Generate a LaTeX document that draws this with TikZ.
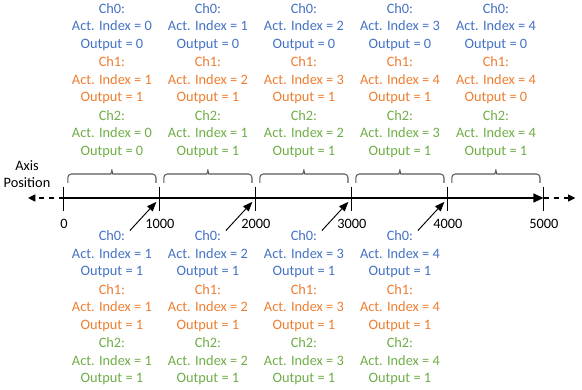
\documentclass[tikz,border=0pt]{standalone}
\usepackage{fontspec}
\setmainfont{Carlito}
\usepackage{xcolor}
\usepackage{tikz}
\usetikzlibrary{positioning,arrows.meta}
\definecolor{chblue}{HTML}{4472C4}
\definecolor{chorange}{HTML}{ED7D31}
\definecolor{chgreen}{HTML}{70AD47}
\definecolor{bracegray}{HTML}{595959}
\tikzstyle{info} = [align=center, inner sep=0pt, font=\fontsize{13.6}{16.6}\selectfont]
\tikzstyle{chzero} = [info, text=chblue]
\tikzstyle{chone} = [info, text=chorange]
\tikzstyle{chtwo} = [info, text=chgreen]
\tikzstyle{axisline} = [line width=2.8pt, -{Triangle[length=10pt,width=8pt]}]
\tikzstyle{dashext} = [line width=1.7pt, dash pattern=on 5pt off 4.5pt, -{Triangle[length=7pt,width=6.5pt]}]
\tikzstyle{tickmark} = [line width=0.9pt]
\tikzstyle{spanbrace} = [draw=bracegray, line width=1pt, rounded corners=0.12cm]
\tikzstyle{pointer} = [line width=0.9pt, shorten >=5pt, -{Triangle[length=9pt,width=7pt]}]

\begin{document}
\begin{tikzpicture}[node distance=1.78cm]
          \useasboundingbox (-2.13,-6.37) rectangle (17.27,6.6);
          % axis
          \coordinate (t0) at (0,0);
          \coordinate (t1) at (3.2,0);
          \coordinate (t2) at (6.4,0);
          \coordinate (t3) at (9.6,0);
          \coordinate (t4) at (12.8,0);
          \coordinate (t5) at (16,0);
          \coordinate (leftend) at (-1.2,0);
          \coordinate (rightend) at (17.05,0);
          \draw [axisline] (t0) -- (t5);
          \draw [dashext] (t0) -- (leftend);
          \draw [dashext] (t5) -- (rightend);
          \draw [tickmark] ([yshift=0.37cm]t0) -- ([yshift=-0.45cm]t0);
          \draw [tickmark] ([yshift=0.37cm]t1) -- ([yshift=-0.45cm]t1);
          \draw [tickmark] ([yshift=0.37cm]t2) -- ([yshift=-0.45cm]t2);
          \draw [tickmark] ([yshift=0.37cm]t3) -- ([yshift=-0.45cm]t3);
          \draw [tickmark] ([yshift=0.37cm]t4) -- ([yshift=-0.45cm]t4);
          \draw [tickmark] ([yshift=0.37cm]t5) -- ([yshift=-0.45cm]t5);
          \node (axislabel) [info] at (-1.23,0.8) {Axis\\Position};
          \node (pos0) [info] at (0,-0.87) {0};
          \node (pos1) [info] at (3.2,-0.87) {1000};
          \node (pos2) [info] at (6.4,-0.87) {2000};
          \node (pos3) [info] at (9.6,-0.87) {3000};
          \node (pos4) [info] at (12.8,-0.87) {4000};
          \node (pos5) [info] at (16,-0.87) {5000};
          % braces
          \draw [spanbrace] ([shift={(0.13,0.5)}]t0) |- ([shift={(1.45,0.8)}]t0) to[out=0,in=-90] ([shift={(1.6,1.03)}]t0) to[out=-90,in=180] ([shift={(1.75,0.8)}]t0) -| ([shift={(-0.13,0.5)}]t1);
          \draw [spanbrace] ([shift={(0.13,0.5)}]t1) |- ([shift={(1.45,0.8)}]t1) to[out=0,in=-90] ([shift={(1.6,1.03)}]t1) to[out=-90,in=180] ([shift={(1.75,0.8)}]t1) -| ([shift={(-0.13,0.5)}]t2);
          \draw [spanbrace] ([shift={(0.13,0.5)}]t2) |- ([shift={(1.45,0.8)}]t2) to[out=0,in=-90] ([shift={(1.6,1.03)}]t2) to[out=-90,in=180] ([shift={(1.75,0.8)}]t2) -| ([shift={(-0.13,0.5)}]t3);
          \draw [spanbrace] ([shift={(0.13,0.5)}]t3) |- ([shift={(1.45,0.8)}]t3) to[out=0,in=-90] ([shift={(1.6,1.03)}]t3) to[out=-90,in=180] ([shift={(1.75,0.8)}]t3) -| ([shift={(-0.13,0.5)}]t4);
          \draw [spanbrace] ([shift={(0.13,0.5)}]t4) |- ([shift={(1.45,0.8)}]t4) to[out=0,in=-90] ([shift={(1.6,1.03)}]t4) to[out=-90,in=180] ([shift={(1.75,0.8)}]t4) -| ([shift={(-0.13,0.5)}]t5);
          % upper columns
          \node (up1ch0) [chzero] at (1.6,5.7) {Ch0:\\Act. Index = 0\\Output = 0};
          \node (up1ch1) [chone, below of=up1ch0] {Ch1:\\Act. Index = 1\\Output = 1};
          \node (up1ch2) [chtwo, below of=up1ch1] {Ch2:\\Act. Index = 0\\Output = 0};
          \node (up2ch0) [chzero] at (4.8,5.7) {Ch0:\\Act. Index = 1\\Output = 0};
          \node (up2ch1) [chone, below of=up2ch0] {Ch1:\\Act. Index = 2\\Output = 1};
          \node (up2ch2) [chtwo, below of=up2ch1] {Ch2:\\Act. Index = 1\\Output = 1};
          \node (up3ch0) [chzero] at (8,5.7) {Ch0:\\Act. Index = 2\\Output = 0};
          \node (up3ch1) [chone, below of=up3ch0] {Ch1:\\Act. Index = 3\\Output = 1};
          \node (up3ch2) [chtwo, below of=up3ch1] {Ch2:\\Act. Index = 2\\Output = 1};
          \node (up4ch0) [chzero] at (11.2,5.7) {Ch0:\\Act. Index = 3\\Output = 0};
          \node (up4ch1) [chone, below of=up4ch0] {Ch1:\\Act. Index = 4\\Output = 1};
          \node (up4ch2) [chtwo, below of=up4ch1] {Ch2:\\Act. Index = 3\\Output = 1};
          \node (up5ch0) [chzero] at (14.4,5.7) {Ch0:\\Act. Index = 4\\Output = 0};
          \node (up5ch1) [chone, below of=up5ch0] {Ch1:\\Act. Index = 4\\Output = 0};
          \node (up5ch2) [chtwo, below of=up5ch1] {Ch2:\\Act. Index = 4\\Output = 1};
          % lower columns
          \node (low1ch0) [chzero] at (1.6,-1.88) {Ch0:\\Act. Index = 1\\Output = 1};
          \node (low1ch1) [chone, below of=low1ch0] {Ch1:\\Act. Index = 1\\Output = 1};
          \node (low1ch2) [chtwo, below of=low1ch1] {Ch2:\\Act. Index = 1\\Output = 1};
          \node (low2ch0) [chzero] at (4.8,-1.88) {Ch0:\\Act. Index = 2\\Output = 1};
          \node (low2ch1) [chone, below of=low2ch0] {Ch1:\\Act. Index = 2\\Output = 1};
          \node (low2ch2) [chtwo, below of=low2ch1] {Ch2:\\Act. Index = 2\\Output = 1};
          \node (low3ch0) [chzero] at (8,-1.88) {Ch0:\\Act. Index = 3\\Output = 1};
          \node (low3ch1) [chone, below of=low3ch0] {Ch1:\\Act. Index = 3\\Output = 1};
          \node (low3ch2) [chtwo, below of=low3ch1] {Ch2:\\Act. Index = 3\\Output = 1};
          \node (low4ch0) [chzero] at (11.2,-1.88) {Ch0:\\Act. Index = 4\\Output = 1};
          \node (low4ch1) [chone, below of=low4ch0] {Ch1:\\Act. Index = 4\\Output = 1};
          \node (low4ch2) [chtwo, below of=low4ch1] {Ch2:\\Act. Index = 4\\Output = 1};
          % pointers
          \draw [pointer] ([xshift=0.6cm]low1ch0.north) -- (t1);
          \draw [pointer] ([xshift=0.6cm]low2ch0.north) -- (t2);
          \draw [pointer] ([xshift=0.6cm]low3ch0.north) -- (t3);
          \draw [pointer] ([xshift=0.6cm]low4ch0.north) -- (t4);
        \end{tikzpicture}
\end{document}
